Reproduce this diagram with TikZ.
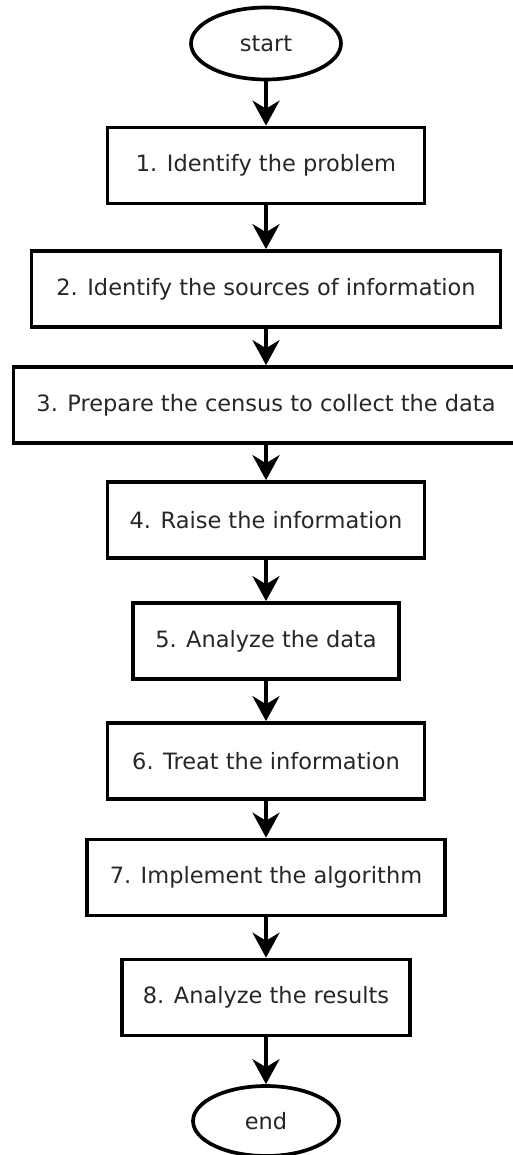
\documentclass[tikz,border=0pt]{standalone}
\usepackage{fontspec}
\setmainfont{DejaVu Sans}
\usepackage{tikz}
\usetikzlibrary{arrows.meta,shapes.geometric}

\begin{document}
\begin{tikzpicture}[
  x=0.02cm, y=-0.02cm,
  stepbox/.style={draw, line width=2.1pt, align=center, minimum height=1.52cm, inner sep=2pt, text=black!85, font=\fontsize{12.8}{15}\selectfont},
  terminal/.style={draw, ellipse, line width=2.1pt, align=center, inner sep=1pt, text=black!85, font=\fontsize{12.8}{15}\selectfont},
  >={Stealth[length=5mm, width=5.4mm, inset=1.6mm]}
]
\useasboundingbox (0,0) rectangle (512,1155);

% Terminals at top and bottom
\node[terminal, minimum width=3.0cm, minimum height=1.44cm] (start) at (266, 43.5) {start};
\node[terminal, minimum width=2.92cm, minimum height=1.4cm] (end) at (266, 1121) {end};

% Steps of the procedure, one box under the other
\node[stepbox, minimum width=6.34cm] (s1) at (266, 165.5) {1. Identify the problem};
\node[stepbox, minimum width=9.38cm] (s2) at (266, 289) {2. Identify the sources of information};
\node[stepbox, minimum width=10.1cm] (s3) at (266, 405) {3. Prepare the census to collect the data};
\node[stepbox, minimum width=6.34cm] (s4) at (266, 520) {4. Raise the information};
\node[stepbox, minimum width=5.32cm] (s5) at (266, 641) {5. Analyze the data};
\node[stepbox, minimum width=6.34cm] (s6) at (266, 761) {6. Treat the information};
\node[stepbox, minimum width=7.16cm] (s7) at (266, 877.5) {7. Implement the algorithm};
\node[stepbox, minimum width=5.76cm] (s8) at (266, 997.5) {8. Analyze the results};

% Arrows going down from each shape to the next
\draw[->, line width=2.1pt] (start) -- (s1);
\draw[->, line width=2.1pt] (s1) -- (s2);
\draw[->, line width=2.1pt] (s2) -- (s3);
\draw[->, line width=2.1pt] (s3) -- (s4);
\draw[->, line width=2.1pt] (s4) -- (s5);
\draw[->, line width=2.1pt] (s5) -- (s6);
\draw[->, line width=2.1pt] (s6) -- (s7);
\draw[->, line width=2.1pt] (s7) -- (s8);
\draw[->, line width=2.1pt] (s8) -- (end);
\end{tikzpicture}
\end{document}
